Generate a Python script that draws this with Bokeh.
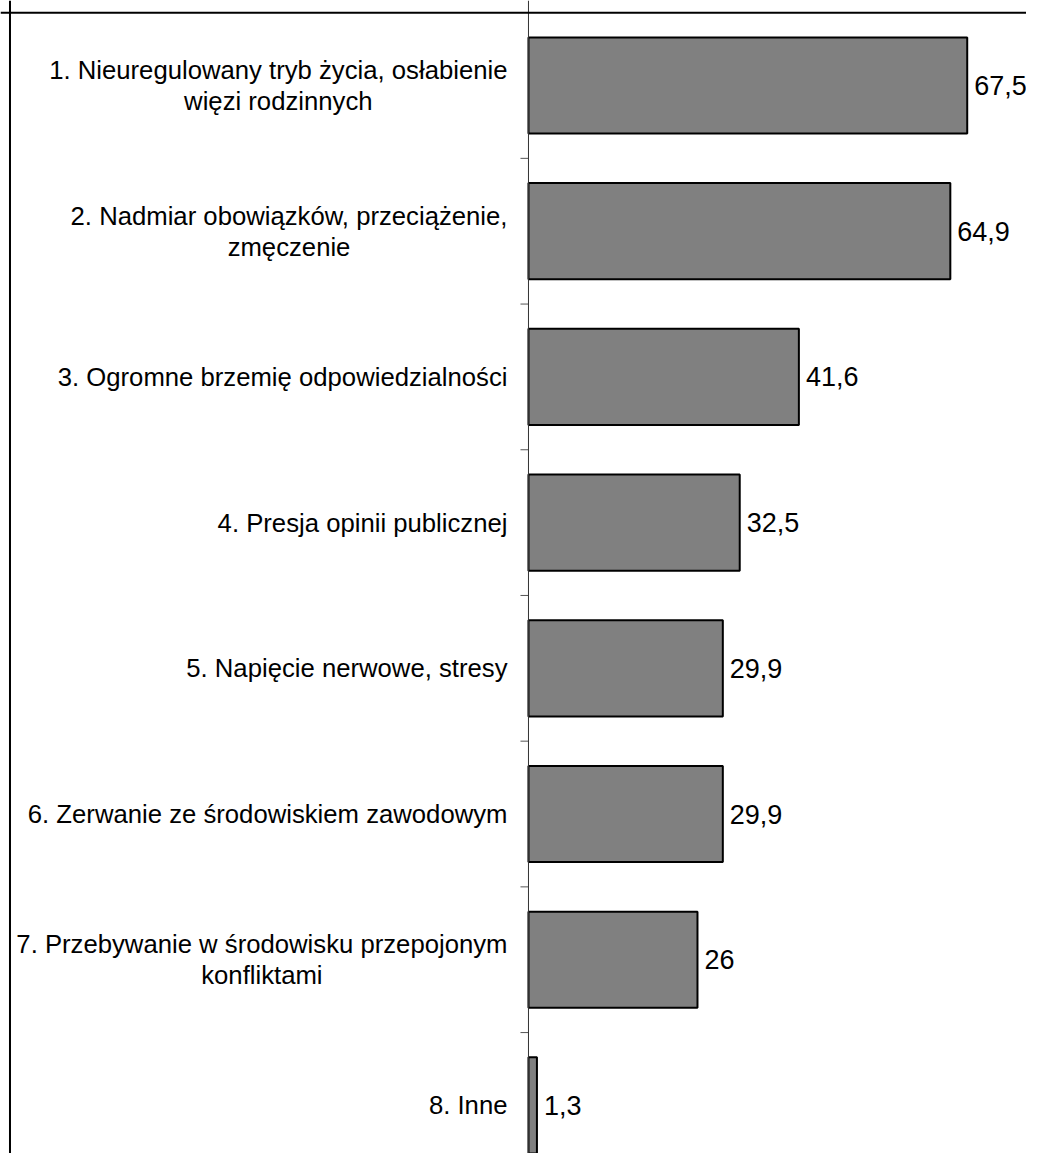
import math
from bokeh.plotting import figure
from bokeh.models import ColumnDataSource, Range1d, Span
from bokeh.core.properties import value
from bokeh.embed import file_html
from bokeh.resources import INLINE

categories = [
    "1. Nieuregulowany tryb życia, osłabienie\nwięzi rodzinnych",
    "2. Nadmiar obowiązków, przeciążenie,\nzmęczenie",
    "3. Ogromne brzemię odpowiedzialności",
    "4. Presja opinii publicznej",
    "5. Napięcie nerwowe, stresy",
    "6. Zerwanie ze środowiskiem zawodowym",
    "7. Przebywanie w środowisku przepojonym\nkonfliktami",
    "8. Inne",
]
values = [67.5, 64.9, 41.6, 32.5, 29.9, 29.9, 26.0, 1.3]
value_labels = ["67,5", "64,9", "41,6", "32,5", "29,9", "29,9", "26", "1,3"]

FONT = "Liberation Sans"
W, H = 1026, 1153

pos = list(range(len(categories)))
src = ColumnDataSource(dict(
    y=pos,
    val=values,
    half=[v / 2 for v in values],
    cat=categories,
    lab=value_labels,
    zero=[0] * len(values),
))
bounds = [i + 0.5 for i in pos[:-1]]
tick_src = ColumnDataSource(dict(x=[0] * len(bounds), y=bounds))

p = figure(width=W, height=H, output_backend="svg", toolbar_location=None,
           x_range=Range1d(-81.23, 76.62), y_range=Range1d(7.330, -0.5834),
           x_axis_location=None, y_axis_location=None,
           min_border=0, outline_line_color=None)
p.xgrid.visible = False
p.ygrid.visible = False

p.rect(x="half", y="y", width="val", height=0.66, source=src,
       fill_color="#808080", line_color="#000000", line_width=2)

p.text(x="zero", y="y", text="cat", source=src, x_offset=-21,
       text_font=value(FONT), text_font_size="25.7px", text_color="#000000",
       anchor="center_right", text_align="center", text_baseline="middle",
       text_line_height=1.1)

p.text(x="val", y="y", text="lab", source=src, x_offset=7,
       text_font=value(FONT), text_font_size="27px", text_color="#000000",
       text_align="left", text_baseline="middle")

# category axis: line at zero with outward ticks between categories
p.add_layout(Span(location=0, dimension="height", line_color="#333333", line_width=1))
p.ray(x="x", y="y", length=8, length_units="screen", angle=math.pi, source=tick_src,
      line_color="#555555", line_width=1)

# frame border (top and left)
p.add_layout(Span(location=-0.5, dimension="width", line_color="#000000", line_width=2))
p.add_layout(Span(location=-79.77, dimension="height", line_color="#000000", line_width=2))

open("out.html", "w").write(file_html(p, INLINE))
